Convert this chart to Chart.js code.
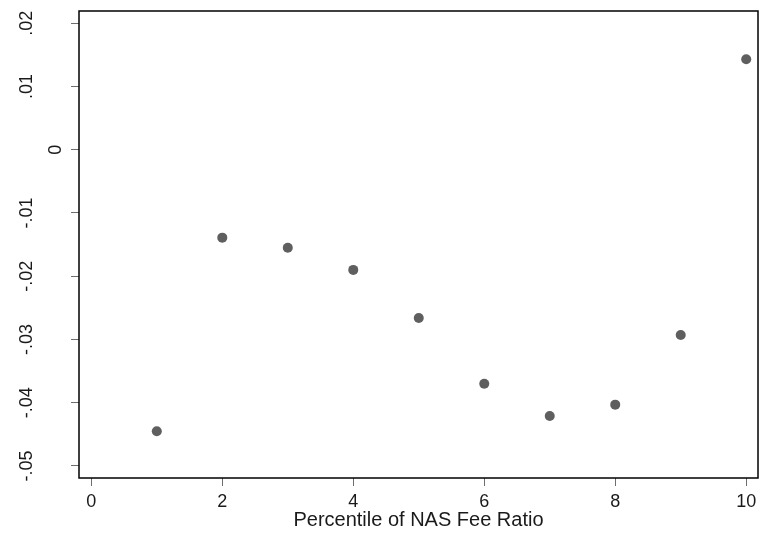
<!DOCTYPE html>
<html>
<head>
<meta charset="utf-8">
<script src="https://cdn.jsdelivr.net/npm/chart.js@4/dist/chart.umd.min.js"></script>
<style>
html,body{margin:0;padding:0;background:#fff;}
#wrap{width:763px;height:535px;position:relative;}
</style>
</head>
<body>
<div id="wrap"><canvas id="c" width="763" height="535"></canvas></div>
<script>
// ---- data ----
const percentiles = [1, 2, 3, 4, 5, 6, 7, 8, 9, 10];
const coefficients = [-0.0445, -0.0139, -0.0155, -0.0190, -0.0266, -0.0370, -0.0421, -0.0403, -0.0293, 0.0143];
const xTickValues = [0, 2, 4, 6, 8, 10];
const yTickValues = [-0.05, -0.04, -0.03, -0.02, -0.01, 0, 0.01, 0.02];
const yTickLabels = ['-.05', '-.04', '-.03', '-.02', '-.01', '0', '.01', '.02'];
const xTitle = 'Percentile of NAS Fee Ratio';

const FONT = "'Liberation Sans', Arial, sans-serif";
const TEXT = '#1a1a1a';

const framePlugin = {
  id: 'frame',
  beforeDatasetsDraw(chart) {
    const {ctx, chartArea: a} = chart;
    ctx.save();
    ctx.strokeStyle = '#000';
    ctx.lineWidth = 1.5;
    ctx.strokeRect(a.left, a.top, a.right - a.left, a.bottom - a.top);
    ctx.restore();
  }
};

const yLabelPlugin = {
  id: 'ylabels',
  afterDraw(chart) {
    const {ctx} = chart;
    const ys = chart.scales.y;
    ctx.save();
    ctx.fillStyle = TEXT;
    ctx.font = '18px ' + FONT;
    ctx.textAlign = 'center';
    ctx.textBaseline = 'alphabetic';
    yTickValues.forEach((v, i) => {
      const py = ys.getPixelForValue(v);
      const lbl = yTickLabels[i];
      const bx = lbl === '0' ? 61 : 32; // baseline column (glyph bottom faces right)
      ctx.save();
      ctx.translate(bx, py);
      ctx.rotate(-Math.PI / 2);
      ctx.fillText(lbl, 0, 0);
      ctx.restore();
    });
    ctx.restore();
  }
};

new Chart(document.getElementById('c'), {
  type: 'scatter',
  data: {
    datasets: [{
      data: percentiles.map((x, i) => ({x: x, y: coefficients[i]})),
      backgroundColor: '#5f5f5f',
      borderWidth: 0,
      pointRadius: 5,
      pointHoverRadius: 5
    }]
  },
  options: {
    responsive: false,
    animation: false,
    layout: {padding: {top: 11, right: 5, left: 0, bottom: 0}},
    plugins: {legend: {display: false}, tooltip: {enabled: false}},
    scales: {
      x: {
        type: 'linear',
        min: -0.188,
        max: 10.18,
        afterBuildTicks(s) { s.ticks = xTickValues.map(v => ({value: v})); },
        afterFit(s) { s.height = 57; },
        border: {display: false},
        grid: {drawOnChartArea: false, drawTicks: true, tickLength: 8, tickColor: '#6e6e6e', tickWidth: 1},
        ticks: {color: TEXT, font: {family: FONT, size: 18}, padding: 5, maxRotation: 0, minRotation: 0,
                callback: v => String(v)},
        title: {display: true, text: xTitle, color: TEXT, font: {family: FONT, size: 20},
                padding: {top: 0, bottom: 3}}
      },
      y: {
        type: 'linear',
        min: -0.0519,
        max: 0.02193,
        afterBuildTicks(s) { s.ticks = yTickValues.map(v => ({value: v})); },
        afterFit(s) { s.width = 79; },
        border: {display: false},
        grid: {drawOnChartArea: false, drawTicks: true, tickLength: 8, tickColor: '#6e6e6e', tickWidth: 1},
        ticks: {display: false}
      }
    }
  },
  plugins: [framePlugin, yLabelPlugin]
});
</script>
</body>
</html>
